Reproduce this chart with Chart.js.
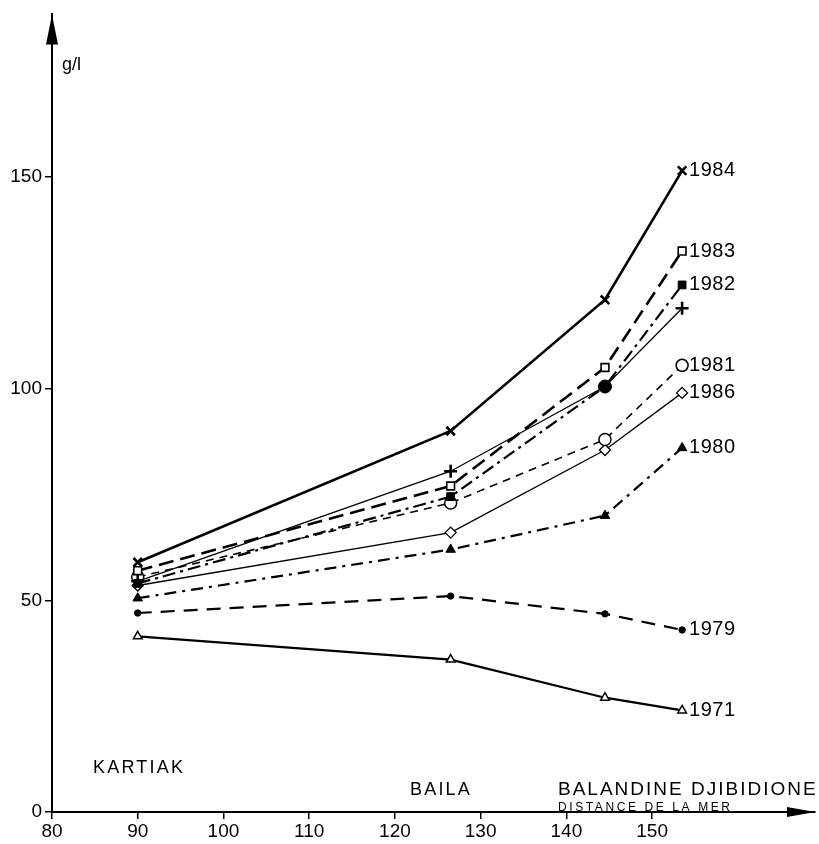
<!DOCTYPE html>
<html>
<head>
<meta charset="utf-8">
<script src="https://cdn.jsdelivr.net/npm/chart.js@4.4.1/dist/chart.umd.min.js"></script>
<style>
  html, body { margin: 0; padding: 0; background: #fff; }
  #wrap { position: relative; width: 819px; height: 844px; }
  canvas { display: block; }
</style>
</head>
<body>
<div id="wrap"><canvas id="c" width="819" height="844"></canvas></div>
<script>
// ---- data ----
const distances = [90, 126.5, 144.5, 153.5];   // distance de la mer (km)
const y1984 = [59, 90, 121, 151.5];
const y1983 = [57, 77, 105, 132.5];
const y1982 = [54, 74.5, 100.5, 124.5];
const y1985 = [54.5, 80.5, 100.5, 119];       // "+" series (unlabelled)
const y1981 = [55.5, 73, 88, 105.5];
const y1986 = [53.5, 66, 85.5, 99];
const y1980 = [50.5, 62, 70, 86];
const y1979 = [47, 51, 46.8, 43];
const y1971 = [41.5, 36, 27, 24];
const xTicks = [80, 90, 100, 110, 120, 130, 140, 150];
const yTicks = [0, 50, 100, 150];
const placeLabels = ['KARTIAK', 'BAILA', 'BALANDINE DJIBIDIONE'];
const axisNote = 'DISTANCE DE LA MER';
const unitLabel = 'g/l';

const FONT = '"Liberation Sans", Arial, Helvetica, sans-serif';
const pts = ys => ys.map((v, i) => ({ x: distances[i], y: v }));

function ds(label, ys, o) {
  return Object.assign({
    label: label,
    data: pts(ys),
    borderColor: '#000',
    backgroundColor: '#000',
    pointBorderColor: '#000',
    fill: false,
    tension: 0,
    clip: false
  }, o);
}

const datasets = [
  ds('1984', y1984, { borderWidth: 2.6, pointStyle: 'crossRot', pointRadius: 6, pointBorderWidth: 2.6 }),
  ds('1983', y1983, { borderWidth: 2.6, borderDash: [15, 7], pointStyle: 'rect', pointRadius: 5.5, pointBackgroundColor: '#fff', pointBorderWidth: 1.6 }),
  ds('1982', y1982, { borderWidth: 2.2, borderDash: [13, 5, 3, 5], pointStyle: ['rect', 'rect', 'circle', 'rect'], pointRadius: [5.5, 5.5, 6.5, 5.5], pointBackgroundColor: '#000', pointBorderWidth: 1 }),
  ds('', y1985, { borderWidth: 1.3, pointStyle: 'cross', pointRadius: 6.5, pointBorderWidth: 2.6 }),
  ds('1981', y1981, { borderWidth: 1.6, borderDash: [8, 6], pointStyle: 'circle', pointRadius: 6, pointBackgroundColor: '#fff', pointBorderWidth: 1.5 }),
  ds('1986', y1986, { borderWidth: 1.4, pointStyle: 'rectRot', pointRadius: 5.5, pointBackgroundColor: '#fff', pointBorderWidth: 1.3 }),
  ds('1980', y1980, { borderWidth: 2.2, borderDash: [12, 6, 3, 6], pointStyle: 'triangle', pointRadius: 5.5, pointBackgroundColor: '#000', pointBorderWidth: 1 }),
  ds('1979', y1979, { borderWidth: 2.2, borderDash: [14, 9], pointStyle: 'circle', pointRadius: 3.2, pointBackgroundColor: '#000', pointBorderWidth: 1 }),
  ds('1971', y1971, { borderWidth: 2.2, pointStyle: 'triangle', pointRadius: 5, pointBackgroundColor: '#fff', pointBorderWidth: 1.5 })
];

const annotate = {
  id: 'annotate',
  afterDraw(chart) {
    const ctx = chart.ctx;
    const xs = chart.scales.x, ys = chart.scales.y;
    const ca = chart.chartArea;
    ctx.save();
    ctx.fillStyle = '#000';
    ctx.strokeStyle = '#000';
    // arrow heads
    const ax = xs.getPixelForValue(80);
    ctx.beginPath();
    ctx.moveTo(ax, ca.top);
    ctx.lineTo(ax - 6, ca.top + 30);
    ctx.lineTo(ax + 6, ca.top + 30);
    ctx.closePath();
    ctx.fill();
    const ay = ys.getPixelForValue(0);
    ctx.beginPath();
    ctx.moveTo(ca.right, ay);
    ctx.lineTo(ca.right - 28, ay - 5);
    ctx.lineTo(ca.right - 28, ay + 5);
    ctx.closePath();
    ctx.fill();

    // series labels at last point
    ctx.textBaseline = 'middle';
    ctx.textAlign = 'left';
    ctx.font = '20px ' + FONT;
    if (ctx.letterSpacing !== undefined) ctx.letterSpacing = '0.5px';
    chart.data.datasets.forEach((d, i) => {
      if (!d.label) return;
      const meta = chart.getDatasetMeta(i);
      const p = meta.data[meta.data.length - 1];
      ctx.fillText(d.label, p.x + 7, p.y);
    });

    // unit and place names
    if (ctx.letterSpacing !== undefined) ctx.letterSpacing = '0px';
    ctx.font = '18px ' + FONT;
    ctx.fillText(unitLabel, ax + 10, 65);
    ctx.font = '18px ' + FONT;
    if (ctx.letterSpacing !== undefined) ctx.letterSpacing = '2.2px';
    ctx.fillText(placeLabels[0], 93, 768);
    ctx.fillText(placeLabels[1], 410, 790);
    ctx.font = '19px ' + FONT;
    if (ctx.letterSpacing !== undefined) ctx.letterSpacing = '2.0px';
    ctx.fillText(placeLabels[2], 558, 790);
    ctx.font = '12px ' + FONT;
    if (ctx.letterSpacing !== undefined) ctx.letterSpacing = '2.6px';
    ctx.fillText(axisNote, 558, 808);
    ctx.restore();
  }
};

new Chart(document.getElementById('c'), {
  type: 'line',
  data: { datasets: datasets },
  options: {
    responsive: false,
    animation: false,
    events: [],
    layout: { autoPadding: false, padding: { left: 0, right: 4, top: 12, bottom: 0 } },
    plugins: { legend: { display: false }, tooltip: { enabled: false } },
    scales: {
      x: {
        type: 'linear',
        min: 80,
        max: 169,
        afterBuildTicks: s => { s.ticks = xTicks.map(v => ({ value: v })); },
        afterFit: s => { s.height = 32; },
        border: { display: true, color: '#000', width: 2 },
        grid: { display: true, drawOnChartArea: false, drawTicks: true, tickLength: 7, color: '#000', lineWidth: 1.5 },
        ticks: { color: '#000', font: { family: FONT, size: 19 }, padding: 1, maxRotation: 0, autoSkip: false }
      },
      y: {
        type: 'linear',
        min: 0,
        max: 188.4,
        afterBuildTicks: s => { s.ticks = yTicks.map(v => ({ value: v })); },
        afterFit: s => { s.width = 52; },
        border: { display: true, color: '#000', width: 2 },
        grid: { display: true, drawOnChartArea: false, drawTicks: true, tickLength: 7, color: '#000', lineWidth: 1.5 },
        ticks: { color: '#000', font: { family: FONT, size: 19 }, padding: 3, autoSkip: false }
      }
    }
  },
  plugins: [annotate]
});
</script>
</body>
</html>
